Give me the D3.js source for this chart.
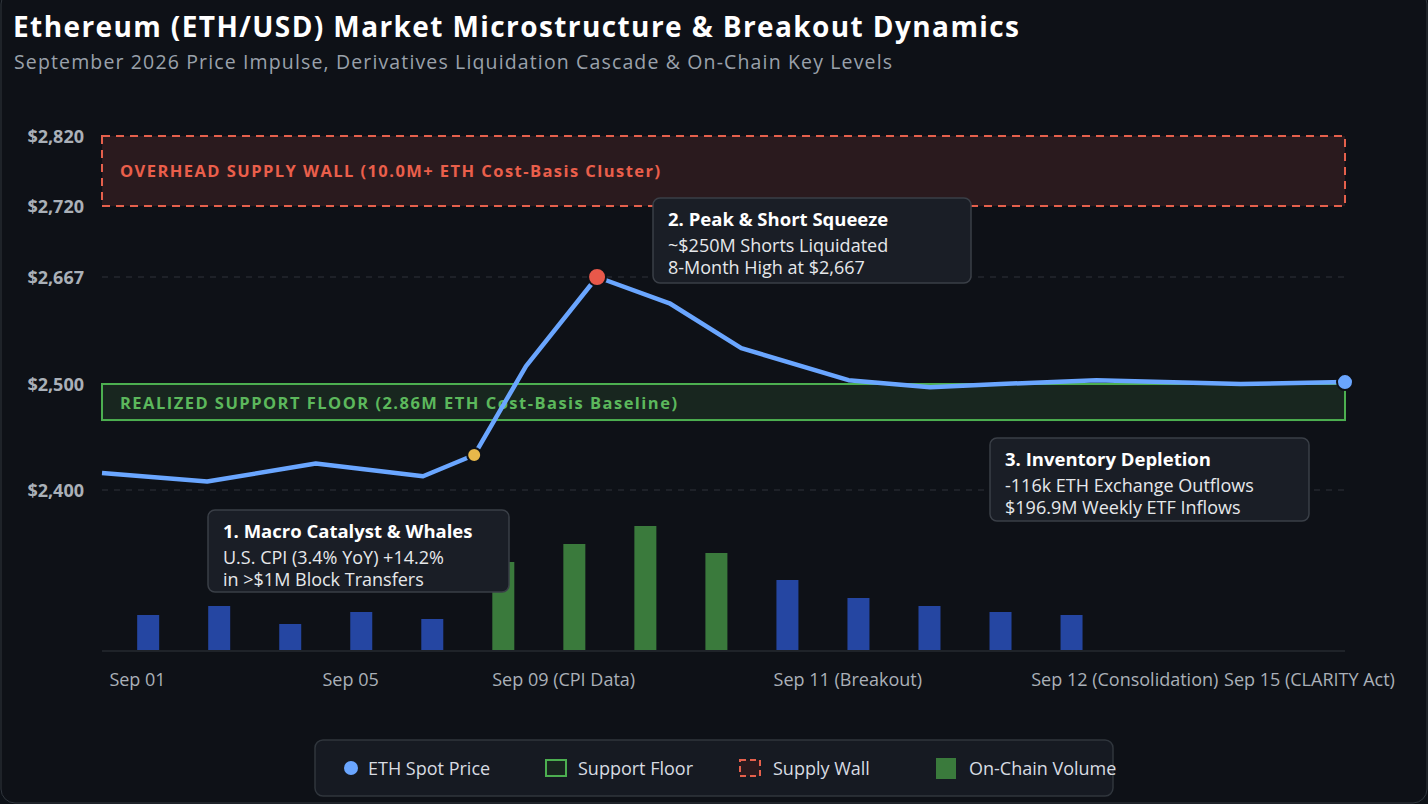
<!DOCTYPE html>
<html>
<head>
<meta charset="utf-8">
<script src="https://cdn.jsdelivr.net/npm/d3@7/dist/d3.min.js"></script>
<style>
    body { margin: 0; padding: 0; background: #0d1117; }
    svg { display: block; font-family: "Open Sans", "Noto Sans", sans-serif; }
</style>
</head>
<body>
<script>
// price path (t = position along the session axis)
const priceT = [0, 1.48, 3.01, 4.52, 5.24, 5.97, 6.97, 7.99, 9.0, 10.51, 11.66, 12.65, 14.0, 16.03, 17.5];
const priceV = [2416, 2408, 2425, 2413, 2433, 2528, 2667, 2626, 2556, 2506, 2497, 2500, 2506, 2500, 2503];
// on-chain volume bars
const volT = [0.65, 1.65, 2.65, 3.65, 4.65, 5.65, 6.65, 7.65, 8.65, 9.65, 10.65, 11.65, 12.65, 13.65];
const volV = [35, 44, 26, 38, 31, 88, 106, 124, 97, 70, 52, 44, 38, 35];
const volPhase = ['b', 'b', 'b', 'b', 'b', 'g', 'g', 'g', 'g', 'b', 'b', 'b', 'b', 'b'];
const xLabels = ['Sep 01', 'Sep 05', 'Sep 09 (CPI Data)', 'Sep 11 (Breakout)', 'Sep 12 (Consolidation)', 'Sep 15 (CLARITY Act)'];
const xLabelT = [0.5, 3.5, 6.5, 10.5, 14.4, 17.0];
const yTicks = [2400, 2500, 2667, 2720, 2820];
const supportZone = [2466, 2500];
const supplyZone = [2720, 2820];

const width = 1428, height = 804;
const svg = d3.select('body').append('svg').attr('width', width).attr('height', height);

svg.append('rect').attr('x', 1).attr('y', -10).attr('width', width - 2).attr('height', height + 9)
    .attr('rx', 14).attr('fill', '#0e1117').attr('stroke', '#30363d');

svg.append('text').attr('x', 13).attr('y', 37).attr('fill', '#fff')
    .attr('font-size', 28).attr('font-weight', 700).attr('textLength', 1006)
    .text('Ethereum (ETH/USD) Market Microstructure & Breakout Dynamics');
svg.append('text').attr('x', 14).attr('y', 69).attr('fill', '#9aa1ab').attr('font-size', 19.5)
    .attr('textLength', 878)
    .text('September 2026 Price Impulse, Derivatives Liquidation Cascade & On-Chain Key Levels');

const x = d3.scaleLinear().domain([0, 17.5]).range([102, 1345]);
const y = d3.scaleLinear().domain([2400, 2500, 2667, 2720, 2820]).range([490, 384, 277, 206, 136]);
const yVol = d3.scaleLinear().domain([0, 124]).range([650, 526]);

// gridlines
svg.append('g').selectAll('line').data([2400, 2667]).join('line')
    .attr('x1', 102).attr('x2', 1345).attr('y1', d => y(d)).attr('y2', d => y(d))
    .attr('stroke', '#2e333b').attr('stroke-dasharray', '6,6');

// y axis labels
svg.append('g').selectAll('text').data(yTicks).join('text')
    .attr('x', 84).attr('y', d => y(d) + 7).attr('text-anchor', 'end')
    .attr('fill', '#aab0b8').attr('font-size', 18).attr('font-weight', 700)
    .text(d => d3.format('$,')(d));

// supply wall
svg.append('rect').attr('x', x(0)).attr('width', x(17.5) - x(0))
    .attr('y', y(supplyZone[1])).attr('height', y(supplyZone[0]) - y(supplyZone[1]))
    .attr('fill', '#2a1a1e').attr('stroke', '#e5604c').attr('stroke-width', 2).attr('stroke-dasharray', '8,6');
svg.append('text').attr('x', 120).attr('y', 177).attr('fill', '#ea5f4b').attr('font-size', 16.5).attr('font-weight', 700)
    .attr('textLength', 540).text('OVERHEAD SUPPLY WALL (10.0M+ ETH Cost-Basis Cluster)');

// support floor
svg.append('rect').attr('x', x(0)).attr('width', x(17.5) - x(0))
    .attr('y', y(supportZone[1])).attr('height', y(supportZone[0]) - y(supportZone[1]))
    .attr('fill', '#18261f').attr('stroke', '#4caf50').attr('stroke-width', 2);
svg.append('text').attr('x', 120).attr('y', 409).attr('fill', '#5cb85c').attr('font-size', 16.5).attr('font-weight', 700)
    .attr('textLength', 557).text('REALIZED SUPPORT FLOOR (2.86M ETH Cost-Basis Baseline)');

// volume bars
svg.append('g').selectAll('rect').data(volV).join('rect')
    .attr('x', (d, i) => x(volT[i]) - 11).attr('width', 22)
    .attr('y', d => yVol(d)).attr('height', d => 650 - yVol(d))
    .attr('fill', (d, i) => volPhase[i] === 'g' ? '#3a7a3c' : '#2546a2');

// x axis
svg.append('line').attr('x1', 102).attr('x2', 1345).attr('y1', 651).attr('y2', 651).attr('stroke', '#30363d');
svg.append('g').selectAll('text').data(xLabels).join('text')
    .attr('x', (d, i) => x(xLabelT[i])).attr('y', 686).attr('text-anchor', 'middle')
    .attr('fill', '#aab0b8').attr('font-size', 18).text(d => d);

// price line
const pts = priceV.map((v, i) => [x(priceT[i]), y(v)]);
svg.append('path').attr('d', d3.line()(pts)).attr('fill', 'none')
    .attr('stroke', '#6aa6ff').attr('stroke-width', 4.5).attr('stroke-linejoin', 'round');

const markers = [[4, '#e8b84a', 7], [6, '#e8584a', 9], [14, '#6aa6ff', 8]];
svg.append('g').selectAll('circle').data(markers).join('circle')
    .attr('cx', d => pts[d[0]][0]).attr('cy', d => pts[d[0]][1]).attr('r', d => d[2])
    .attr('fill', d => d[1]).attr('stroke', '#0e1117').attr('stroke-width', 2);

// annotations
const notes = [
    { x: 208, y: 510, w: 301, h: 82, title: '1. Macro Catalyst & Whales', lines: ['U.S. CPI (3.4% YoY) +14.2%', 'in >$1M Block Transfers'] },
    { x: 653, y: 198, w: 318, h: 85, title: '2. Peak & Short Squeeze', lines: ['~$250M Shorts Liquidated', '8-Month High at $2,667'] },
    { x: 990, y: 438, w: 319, h: 83, title: '3. Inventory Depletion', lines: ['-116k ETH Exchange Outflows', '$196.9M Weekly ETF Inflows'] }
];
const ng = svg.append('g').selectAll('g').data(notes).join('g')
    .attr('transform', d => `translate(${d.x},${d.y})`);
ng.append('rect').attr('width', d => d.w).attr('height', d => d.h).attr('rx', 7)
    .attr('fill', '#1a1e26').attr('stroke', '#3a3f47').attr('stroke-width', 1.5);
ng.append('text').attr('x', 15).attr('y', 28).attr('fill', '#fff').attr('font-size', 18.5).attr('font-weight', 700)
    .text(d => d.title);
ng.each(function(d) {
    d3.select(this).selectAll('text.l').data(d.lines).join('text').attr('class', 'l')
        .attr('x', 15).attr('y', (l, i) => 54 + i * 22).attr('fill', '#e6e8eb').attr('font-size', 18).text(l => l);
});

// legend
const lg = svg.append('g').attr('transform', 'translate(315,740)');
lg.append('rect').attr('width', 798).attr('height', 56).attr('rx', 8).attr('fill', '#161a22').attr('stroke', '#30363d').attr('stroke-width', 1.5);
lg.append('circle').attr('cx', 36).attr('cy', 28).attr('r', 7).attr('fill', '#6aa6ff');
lg.append('rect').attr('x', 231).attr('y', 20).attr('width', 20).attr('height', 16).attr('fill', '#18261f').attr('stroke', '#4caf50').attr('stroke-width', 2);
lg.append('rect').attr('x', 425).attr('y', 20).attr('width', 20).attr('height', 16).attr('fill', '#2a1a1e').attr('stroke', '#e5604c').attr('stroke-width', 2).attr('stroke-dasharray', '6,4');
lg.append('rect').attr('x', 621).attr('y', 18).attr('width', 20).attr('height', 21).attr('fill', '#3a7a3c');
const legTexts = [['ETH Spot Price', 53], ['Support Floor', 263], ['Supply Wall', 458], ['On-Chain Volume', 654]];
lg.selectAll('text').data(legTexts).join('text').attr('x', d => d[1]).attr('y', 35)
    .attr('fill', '#d8dce2').attr('font-size', 18).text(d => d[0]);
</script>
</body>
</html>
